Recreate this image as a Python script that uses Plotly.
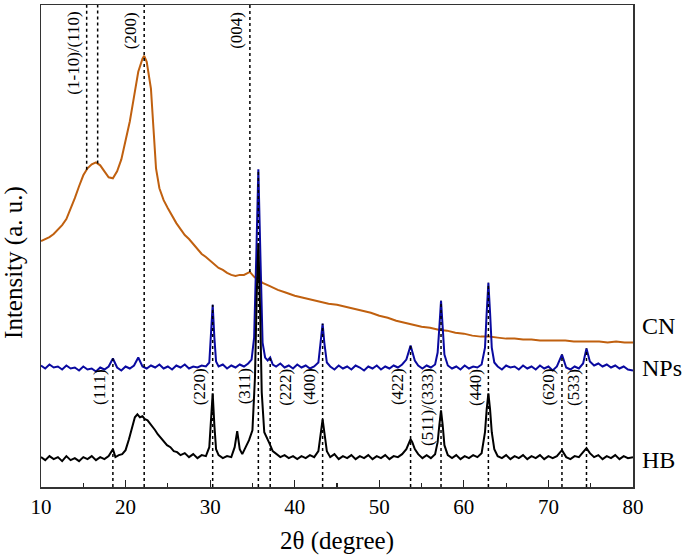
import numpy as np
import plotly.graph_objects as go

# ---------------- data (heights in arbitrary intensity units) ----------------
cn_x = [10, 10.5, 11, 11.5, 12, 12.5, 13, 13.5, 14, 14.5, 15, 15.5, 16, 16.5, 17, 17.5,
        18, 18.5, 19, 19.5, 20, 20.5, 21, 21.5, 22, 22.2, 22.5, 23, 23.3, 23.6, 24, 24.5,
        25, 25.5, 26, 26.5, 27, 27.5, 28, 28.5, 29, 29.5, 30, 30.5, 31, 31.5, 32, 32.5,
        33, 33.5, 34, 34.7, 35.2, 35.7, 36.2, 37, 38, 39, 40, 41, 42, 43, 44, 45, 46, 47,
        48, 49, 50, 51, 52, 53, 54, 55, 56, 57, 58, 59, 60, 61, 62, 63, 64, 65, 66, 67,
        68, 69, 70, 71, 72, 73, 74, 75, 76, 77, 78, 79, 80]
cn_y = [247, 249, 251, 254, 258, 263, 269, 279, 290, 302, 313, 320, 324, 326, 323, 317,
        311, 310, 317, 329, 347, 367, 392, 417, 430, 433, 427, 400, 360, 320, 300, 288,
        280, 272, 265, 259, 253, 249, 244, 239, 234, 231, 227, 224, 220, 218, 215, 213,
        212, 213, 213, 216, 211, 208, 205, 202, 198, 195, 192, 190, 188, 186, 184, 183,
        181, 179, 177, 175, 172, 170, 167, 165, 163, 161, 160, 158, 157, 155, 154, 152,
        151, 151, 150, 149, 149, 148, 148, 147, 147, 147, 147, 146, 146, 146, 146, 145,
        146, 145, 145]

np_x = [10, 10.5, 11, 11.5, 12, 12.5, 13, 13.5, 14, 14.5, 15, 15.5, 16, 16.5, 17, 17.5,
        18, 18.5, 19, 19.5, 20, 20.5, 21, 21.5, 22, 22.5, 23, 23.5, 24, 24.5, 25, 25.5,
        26, 26.5, 27, 27.5, 28, 28.5, 29, 29.5, 29.9, 30.1, 30.3, 30.5, 30.7, 31, 31.5,
        32, 32.5, 33, 33.5, 34, 34.5, 34.9, 35.2, 35.45, 35.7, 35.95, 36.2, 36.5, 36.8,
        37.1, 37.4, 37.8, 38.3, 38.8, 39.3, 39.8, 40.3, 40.8, 41.3, 41.8, 42.3, 42.8,
        43.1, 43.3, 43.5, 43.8, 44.2, 44.7, 45.2, 45.7, 46.2, 46.7, 47.2, 47.7, 48.2,
        48.7, 49.2, 49.7, 50.2, 50.7, 51.2, 51.7, 52.2, 52.7, 53.2, 53.5, 53.7, 53.9,
        54.2, 54.6, 55.1, 55.6, 56.1, 56.6, 56.9, 57.1, 57.3, 57.5, 57.7, 58.1, 58.6,
        59.1, 59.6, 60.1, 60.6, 61.1, 61.6, 62.1, 62.5, 62.7, 62.9, 63.1, 63.3, 63.6,
        64, 64.5, 65, 65.5, 66, 66.5, 67, 67.5, 68, 68.5, 69, 69.5, 70, 70.5, 71, 71.6,
        72.1, 72.6, 73.1, 73.6, 74.1, 74.5, 74.9, 75.4, 75.9, 76.4, 76.9, 77.4, 77.9,
        78.4, 78.9, 79.4, 80]
np_y = [122, 119, 123, 120, 121, 118, 122, 119, 120, 117, 121, 118, 119, 116, 120, 118,
        121, 129, 120, 117, 121, 119, 122, 130, 121, 119, 122, 120, 123, 119, 121, 118,
        122, 120, 123, 119, 121, 120, 122, 121, 125, 150, 183, 150, 126, 121, 123,
        119, 122, 120, 123, 121, 124, 128, 150, 230, 319, 230, 145, 130, 127,
        130, 123, 121, 124, 120, 122, 119, 123, 120, 122, 119, 121, 125,
        145, 164, 145, 125, 121, 118, 122, 119, 121, 118, 122, 120, 117,
        121, 119, 122, 118, 121, 119, 122, 120, 123, 128, 136, 142, 136,
        127, 122, 119, 122, 120, 123, 135, 160, 187, 160, 133, 122, 119,
        121, 118, 122, 119, 121, 120, 123, 140, 175, 205, 175, 140, 125,
        121, 118, 122, 120, 121, 118, 122, 119, 121, 118, 122, 119, 121, 117, 121, 133,
        120, 118, 121, 119, 124, 139, 126, 122, 124, 121, 123, 120, 122,
        119, 121, 118, 117]

hb_x = [10, 10.5, 11, 11.5, 12, 12.5, 13, 13.5, 14, 14.5, 15, 15.5, 16, 16.5, 17, 17.5,
        18, 18.5, 18.8, 19.2, 19.6, 20, 20.4, 20.8, 21.1, 21.4, 21.7, 22, 22.3, 22.6,
        22.9, 23.2, 23.5, 23.8, 24.1, 24.5, 24.9, 25.3, 25.7, 26.1, 26.5, 27, 27.5, 28,
        28.5, 29, 29.5, 29.9, 30.1, 30.3, 30.5, 30.7, 31, 31.5, 32, 32.5, 32.9, 33.2,
        33.5, 33.8, 34.2, 34.6, 35, 35.3, 35.5, 35.7, 35.9, 36.1, 36.4, 36.7, 37, 37.4,
        37.8, 38.3, 38.8, 39.3, 39.8, 40.3, 40.8, 41.3, 41.8, 42.3, 42.8, 43.1, 43.3,
        43.5, 43.8, 44.2, 44.7, 45.2, 45.7, 46.2, 46.7, 47.2, 47.7, 48.2, 48.7, 49.2,
        49.7, 50.2, 50.7, 51.2, 51.7, 52.2, 52.7, 53.2, 53.5, 53.7, 53.9, 54.2, 54.6,
        55.1, 55.6, 56.1, 56.6, 56.9, 57.1, 57.3, 57.5, 57.7, 58.1, 58.6, 59.1, 59.6,
        60.1, 60.6, 61.1, 61.6, 62.1, 62.5, 62.7, 62.9, 63.1, 63.3, 63.6, 64, 64.5, 65,
        65.5, 66, 66.5, 67, 67.5, 68, 68.5, 69, 69.5, 70, 70.5, 71, 71.6, 72.1, 72.6,
        73.1, 73.6, 74.1, 74.5, 74.9, 75.4, 75.9, 76.4, 76.9, 77.4, 77.9, 78.4, 78.9,
        79.4, 80]
hb_y = [30, 27, 31, 28, 30, 26, 31, 27, 29, 26, 30, 28, 31, 27, 30, 28,
        31, 38, 30, 32, 33, 37, 48, 62, 70, 73, 70, 71, 68, 67,
        64, 60, 57, 53, 50, 46, 42, 40, 36, 35, 32, 34, 30, 33,
        29, 32, 31, 40, 65, 94, 62, 38, 32, 29, 31, 30, 40, 56,
        38, 33, 40, 47, 57, 110, 190, 245, 180, 95, 55, 50, 44, 36,
        33, 30, 32, 29, 31, 28, 31, 29, 32, 30, 36, 55, 68,
        55, 36, 30, 33, 28, 31, 29, 32, 28, 31, 29, 32, 28,
        31, 29, 32, 28, 31, 30, 33, 38, 45, 48, 45, 38, 33,
        29, 32, 29, 33, 45, 62, 77, 62, 42, 32, 29, 32, 28,
        31, 29, 32, 30, 34, 55, 78, 94, 78, 55, 38, 31, 29, 32,
        28, 31, 29, 32, 28, 31, 29, 32, 28, 31, 29, 31, 37, 30, 28,
        31, 30, 35, 39, 34, 30, 32, 28, 31, 29, 32, 28, 31,
        29, 30]

cn_peak_pos = [15.4, 16.7, 22.2, 34.7]
cn_peak_labels = ["(1-10)/(110)", "", "(200)", "(004)"]
hb_peak_pos = [18.5, 30.3, 35.7, 37.1, 43.3, 53.7, 57.3, 62.9, 71.6, 74.5]
hb_peak_labels = ["(111)", "(220)", "(311)", "(222)", "(400)", "(422)",
                  "(511)/(333)", "(440)", "(620)", "(533)"]

series_names = ["CN", "NPs", "HB"]

# ---------------- figure ----------------
FONT = "Liberation Serif"
Y_TOP = 484
fig = go.Figure()

colors = ["#C0600F", "#0A0AA0", "#000000"]
for xs, ys, c, name in [(cn_x, cn_y, colors[0], "CN"), (np_x, np_y, colors[1], "NPs"),
                        (hb_x, hb_y, colors[2], "HB")]:
    fig.add_trace(go.Scatter(x=xs, y=ys, mode="lines", name=name,
                             line=dict(color=c, width=2), showlegend=False,
                             hoverinfo="skip"))

shapes = []
annotations = []
dot = dict(color="black", width=1.5, dash="dot")

# CN reference lines: from top down to the CN curve (the (200) line spans full height)
for pos, lab in zip(cn_peak_pos, cn_peak_labels):
    y0 = 0 if lab == "(200)" else float(np.interp(pos, cn_x, cn_y))
    shapes.append(dict(type="line", xref="x", yref="y", x0=pos, x1=pos, y0=y0, y1=Y_TOP,
                       line=dot, layer="above"))
    if lab:
        annotations.append(dict(x=pos, y=Y_TOP - 6, xref="x", yref="y", text=lab,
                                textangle=-90, showarrow=False, xanchor="right",
                                yanchor="top", xshift=-3, borderpad=0,
                                font=dict(family=FONT, size=17, color="black")))

# HB reference lines: from the NPs curve down to the bottom
for pos, lab in zip(hb_peak_pos, hb_peak_labels):
    y1 = float(np.interp(pos, np_x, np_y))
    shapes.append(dict(type="line", xref="x", yref="y", x0=pos, x1=pos, y0=0, y1=y1,
                       line=dot, layer="above"))
    right = lab == "(222)"
    annotations.append(dict(x=pos, y=120, xref="x", yref="y", text=lab,
                            textangle=-90, showarrow=False,
                            xanchor="left" if right else "right",
                            yanchor="top", xshift=4 if right else -3, borderpad=0,
                            font=dict(family=FONT, size=17, color="black")))

# series names at right
for name, yv in zip(series_names, [162, 119, 27]):
    annotations.append(dict(x=1, y=yv, xref="paper", yref="y", text=name,
                            showarrow=False, xanchor="left", yanchor="middle",
                            xshift=7, font=dict(family=FONT, size=24, color="black")))

# axis titles
annotations.append(dict(x=0.5, y=0, xref="paper", yref="paper", text="2θ (degree)",
                        showarrow=False, xanchor="center", yanchor="middle", yshift=-54,
                        font=dict(family=FONT, size=25, color="black")))
annotations.append(dict(x=0, y=(487 - 262) / 484, xref="paper", yref="paper",
                        text="Intensity (a. u.)", textangle=-90, showarrow=False,
                        xanchor="center", yanchor="middle", xshift=-27,
                        font=dict(family=FONT, size=25, color="black")))

fig.update_layout(width=685, height=558, margin=dict(l=41, r=52, t=3, b=71),
                  paper_bgcolor="white", plot_bgcolor="white",
                  shapes=shapes, annotations=annotations, hovermode=False,
                  font=dict(family=FONT, color="black"))
fig.update_xaxes(range=[10, 80], dtick=10, tick0=10, ticks="inside", ticklen=7,
                 tickwidth=1.2, tickcolor="#222",
                 minor=dict(dtick=5, ticks="inside", ticklen=4, tickcolor="#222", tickwidth=1.2),
                 showline=True, linecolor="#333", linewidth=1.5, mirror=True,
                 showgrid=False, zeroline=False,
                 tickfont=dict(family=FONT, size=21, color="black"))
fig.update_yaxes(range=[0, Y_TOP], showticklabels=False, ticks="", showline=True,
                 linecolor="#333", linewidth=1.5, mirror=True, showgrid=False,
                 zeroline=False)

fig.write_html("out.html", config={"displayModeBar": False, "staticPlot": True},
               post_script="document.body.style.margin='0';document.body.style.overflow='hidden';")
